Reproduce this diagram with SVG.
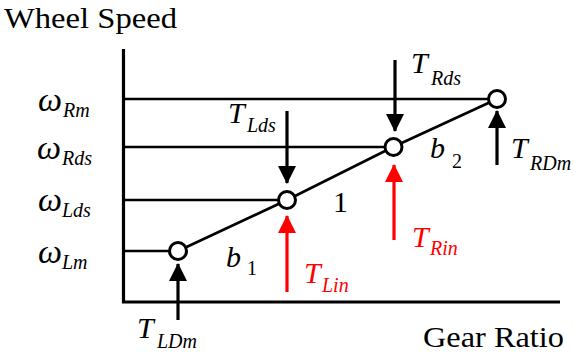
<svg xmlns="http://www.w3.org/2000/svg" width="574" height="359" viewBox="0 0 574 359" font-family="'Liberation Serif', 'Times New Roman', Tinos, 'DejaVu Serif', serif">
<style>
text{font-family:'Liberation Serif','Times New Roman',Tinos,'DejaVu Serif',serif;fill:#000}
.big{font-size:30px}
.it{font-style:italic}
.sub{font-size:20px;font-style:italic}
.up{font-style:normal}
.om{font-size:34px;font-style:italic}
.red{fill:#f00}
.ax{stroke:#000;stroke-width:3.2;fill:none}
.ln{stroke:#000;stroke-width:2.6;fill:none}
.arr{stroke:#000;stroke-width:3.2;fill:none}
.arrR{stroke:#f00;stroke-width:3.2;fill:none}
.nd{fill:#fff;stroke:#000;stroke-width:3}
</style>
<defs>
<marker id="hb" markerUnits="userSpaceOnUse" markerWidth="18" markerHeight="18" viewBox="0 0 17 17" refX="16" refY="8.5" orient="auto"><path d="M0,0 L17,8.5 L0,17 Z" fill="#000"/></marker>
<marker id="hr" markerUnits="userSpaceOnUse" markerWidth="18" markerHeight="18" viewBox="0 0 17 17" refX="16" refY="8.5" orient="auto"><path d="M0,0 L17,8.5 L0,17 Z" fill="#f00"/></marker>
</defs>
<rect width="574" height="359" fill="#fff"/>
<g id="axes">
<path class="ax" d="M123.5,49 V302 H560"/>
<text class="big" x="4" y="28" textLength="173" lengthAdjust="spacingAndGlyphs">Wheel Speed</text>
<text class="big" x="423" y="347" textLength="141" lengthAdjust="spacingAndGlyphs">Gear Ratio</text>
</g>
<g id="connectors">
<path class="ln" d="M123.5,99 H497 M123.5,147 H393 M123.5,200 H287 M123.5,251 H178"/>
<path class="ln" d="M178,251 L287,200 L393,147 L497,99"/>
<path class="arr" d="M287,111 V183" marker-end="url(#hb)"/>
<path class="arr" d="M395,60 V131" marker-end="url(#hb)"/>
<path class="arr" d="M497,165 V111" marker-end="url(#hb)"/>
<path class="arr" d="M178,320 V264" marker-end="url(#hb)"/>
<path class="arrR" d="M287,292 V216" marker-end="url(#hr)"/>
<path class="arrR" d="M394,240 V165" marker-end="url(#hr)"/>
</g>
<g id="omegaRm"><text class="om" x="38" y="111">ω</text><text class="sub" x="63" y="117">Rm</text></g>
<g id="omegaRds"><text class="om" x="37" y="159">ω</text><text class="sub" x="62" y="165">Rds</text></g>
<g id="omegaLds"><text class="om" x="38" y="211">ω</text><text class="sub" x="62" y="217">Lds</text></g>
<g id="omegaLm"><text class="om" x="38" y="263">ω</text><text class="sub" x="62" y="269">Lm</text></g>
<g id="nodeLm"><circle class="nd" cx="178" cy="251" r="8.5"/></g>
<g id="nodeLds"><circle class="nd" cx="287" cy="200" r="8.5"/></g>
<g id="nodeRds"><circle class="nd" cx="393.5" cy="147" r="8.5"/></g>
<g id="nodeRm"><circle class="nd" cx="497" cy="99" r="8.5"/></g>
<g id="labelTLds"><text class="big it" x="228" y="123">T</text><text class="sub" x="247" y="132">Lds</text></g>
<g id="labelTRds"><text class="big it" x="411" y="73">T</text><text class="sub" x="431" y="85">Rds</text></g>
<g id="labelTRDm"><text class="big it" x="511" y="158">T</text><text class="sub" x="530" y="170">RDm</text></g>
<g id="labelTLDm"><text class="big it" x="137" y="338">T</text><text class="sub" x="157" y="348">LDm</text></g>
<g id="labelTLin"><text class="big it red" x="304" y="283">T</text><text class="sub red" x="322" y="292">Lin</text></g>
<g id="labelTRin"><text class="big it red" x="412" y="247">T</text><text class="sub red" x="430" y="255">Rin</text></g>
<g id="labelb1"><text class="big it" x="226" y="267">b</text><text class="sub up" x="247" y="275">1</text></g>
<g id="labelb2"><text class="big it" x="430" y="158">b</text><text class="sub up" x="452" y="168">2</text></g>
<g id="label1"><text class="big" x="333" y="212">1</text></g>
</svg>
